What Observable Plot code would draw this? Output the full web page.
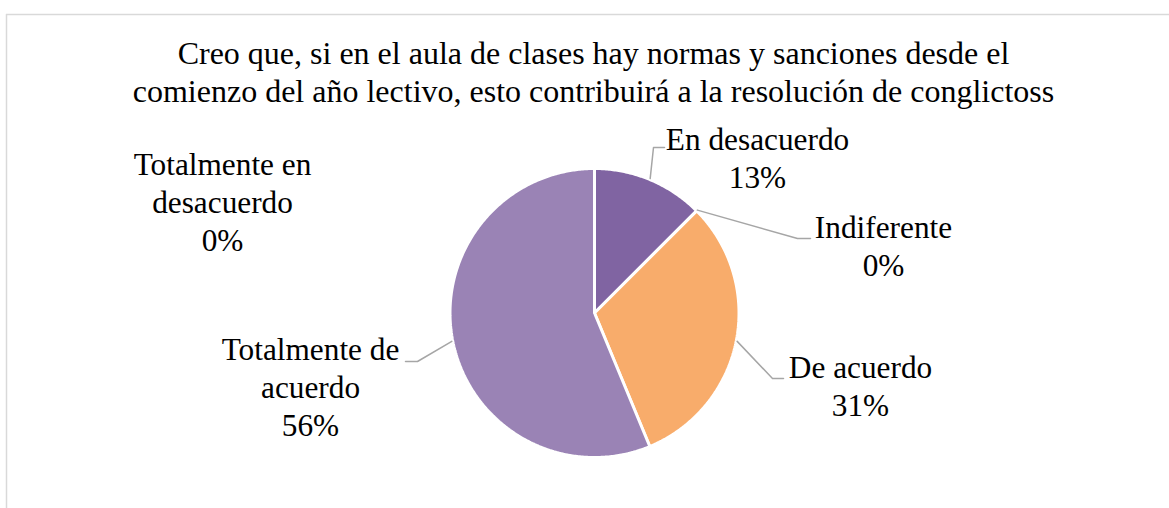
<!DOCTYPE html>
<html><head><meta charset="utf-8">
<script src="https://cdn.jsdelivr.net/npm/d3@7"></script>
<script src="https://cdn.jsdelivr.net/npm/@observablehq/plot@0.6"></script>
<style>body{margin:0;background:#fff}</style>
</head><body><div id="chart"></div>
<script>
// ---- data ----
const titleLines = [
  "Creo que, si en el aula de clases hay normas y sanciones desde el",
  "comienzo del año lectivo, esto contribuirá a la resolución de conglictoss"
];
const categories = ["Totalmente en desacuerdo", "En desacuerdo", "Indiferente", "De acuerdo", "Totalmente de acuerdo"];
const counts = [0, 2, 0, 5, 9];
const labelNames = ["Totalmente en\ndesacuerdo", "En desacuerdo", "Indiferente", "De acuerdo", "Totalmente de\nacuerdo"];

// ---- styles / layout ----
const sliceColors = ["#4F81BD", "#8064A2", "#C0C0C0", "#F8AC6B", "#9A83B5"];
const W = 1169, H = 508;
const cx = 594, cy = 312.5, R = 144.5;
const labelPos = [[222, 250], [757, 187], [883, 275], [860, 415], [310, 435]]; // center x, last baseline
const leaderElbow = [null, [653, 147, 664], [797, 238, 810], [772, 378, 783], [417, 361, 405]];
const font = "'Liberation Serif', 'Times New Roman', serif";

const total = d3.sum(counts);
const arcs = d3.pie().value(d => d).sort(null).startAngle(0).endAngle(2 * Math.PI)(counts);

// slice polygons
const sliceRows = [];
arcs.forEach((a, i) => {
  if (a.endAngle - a.startAngle <= 0) return;
  const cat = categories[i];
  sliceRows.push({cat, x: cx, y: cy});
  const n = Math.max(2, Math.ceil((a.endAngle - a.startAngle) / 0.01));
  for (let k = 0; k <= n; k++) {
    const t = a.startAngle + (a.endAngle - a.startAngle) * k / n;
    sliceRows.push({cat, x: cx + R * Math.sin(t), y: cy - R * Math.cos(t)});
  }
  sliceRows.push({cat, x: cx, y: cy});
});

// leader lines
const leaderRows = [];
arcs.forEach((a, i) => {
  const e = leaderElbow[i];
  if (!e) return;
  const m = (a.startAngle + a.endAngle) / 2;
  const cat = categories[i];
  leaderRows.push({cat, x: cx + (R + 1) * Math.sin(m), y: cy - (R + 1) * Math.cos(m)});
  leaderRows.push({cat, x: e[0], y: e[1]});
  leaderRows.push({cat, x: e[2], y: e[1]});
});

const labelRows = categories.map((c, i) => ({
  cat: c,
  x: labelPos[i][0],
  y: labelPos[i][1],
  text: labelNames[i] + "\n" + Math.round(counts[i] / total * 100) + "%"
}));

const chart = Plot.plot({
  width: W, height: H, margin: 0,
  x: {domain: [0, W], range: [0, W], axis: null},
  y: {domain: [0, H], range: [0, H], axis: null},
  color: {domain: categories, range: sliceColors},
  style: {background: "#fff", fontFamily: font},
  marks: [
    Plot.ruleY([14], {x1: 6, x2: W, stroke: "#d9d9d9", strokeWidth: 1.5}),
    Plot.ruleX([6], {y1: 14, y2: H, stroke: "#d9d9d9", strokeWidth: 1.5}),
    Plot.line(sliceRows, {x: "x", y: "y", z: "cat", fill: "cat", stroke: "#fff", strokeWidth: 3, strokeLinejoin: "miter"}),
    Plot.line(leaderRows, {x: "x", y: "y", z: "cat", stroke: "#a6a6a6", strokeWidth: 1.5}),
    Plot.text(labelRows, {x: "x", y: "y", text: "text", textAnchor: "middle", lineAnchor: "bottom", lineHeight: 1.21, fontSize: 31.3, fontFamily: font, fill: "#000"}),
    Plot.text([titleLines.join("\n")], {x: 593, y: 101, text: d => d, textAnchor: "middle", lineAnchor: "bottom", lineHeight: 1.18, fontSize: 32, fontFamily: font, fill: "#000"})
  ]
});
document.getElementById("chart").appendChild(chart);
</script>
</body></html>
